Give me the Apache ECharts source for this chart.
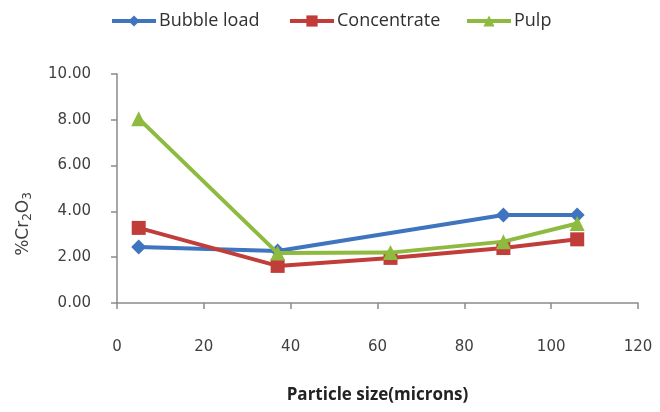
<!DOCTYPE html>
<html>
<head>
<meta charset="utf-8">
<script src="https://cdn.jsdelivr.net/npm/echarts@6/dist/echarts.min.js"></script>
<style>
  html, body { margin: 0; padding: 0; background: #fff; }
  #chart { width: 660px; height: 412px; }
</style>
</head>
<body>
<div id="chart"></div>
<script>
// Particle size (microns) against %Cr2O3 for three flotation streams
const bubbleLoad = [[5, 2.44], [37, 2.27], [89, 3.84], [106, 3.84]];
const concentrate = [[5, 3.28], [37, 1.62], [63, 1.97], [89, 2.40], [106, 2.78]];
const pulp = [[5, 8.05], [37, 2.18], [63, 2.20], [89, 2.68], [106, 3.47]];
const seriesNames = ['Bubble load', 'Concentrate', 'Pulp'];

const colors = ['#3f74bf', '#c03d3a', '#8dba3f'];
const symbols = ['diamond', 'rect', 'triangle'];
const symbolSizes = [15, 14, 15];
const dataSets = [bubbleLoad, concentrate, pulp];
const legendLefts = [110, 288, 465];

const chart = echarts.init(document.getElementById('chart'));

const axisColor = '#8a8a8a';
const textColor = '#404040';

chart.setOption({
  animation: false,
  color: colors,
  // one legend block per series so each entry sits at its own spot
  legend: seriesNames.map((name, i) => ({
    top: 12,
    left: legendLefts[i],
    padding: 0,
    itemWidth: 44,
    itemHeight: 14,
    lineStyle: { width: 4 },
    textStyle: {
      fontFamily: 'Open Sans',
      fontSize: 18,
      color: '#303030',
      padding: [0, 0, 0, -2]
    },
    data: [name]
  })),
  grid: {
    left: 117,
    right: 22,
    top: 74,
    bottom: 109,
    containLabel: false,
    outerBoundsMode: 'none'
  },
  graphic: [{
    type: 'text',
    x: 24,
    y: 224,
    rotation: Math.PI / 2,
    style: {
      text: '{a|%Cr}{s|2}{a|O}{s|3}',
      align: 'center',
      verticalAlign: 'middle',
      rich: {
        a: { fontFamily: 'DejaVu Sans', fontSize: 17, fill: textColor },
        s: { fontFamily: 'DejaVu Sans', fontSize: 12, fill: textColor, padding: [7, 0, 0, 0] }
      }
    }
  }],
  xAxis: {
    type: 'value',
    min: 0,
    max: 120,
    interval: 20,
    name: 'Particle size(microns)',
    nameLocation: 'middle',
    nameGap: 84,
    nameTextStyle: {
      fontFamily: 'Open Sans',
      fontWeight: 'bold',
      fontSize: 17,
      color: '#222'
    },
    axisLine: { lineStyle: { color: axisColor, width: 1.5 } },
    axisTick: { show: true, length: 6, lineStyle: { color: axisColor, width: 1.5 } },
    axisLabel: {
      margin: 37,
      color: textColor,
      fontFamily: 'DejaVu Sans',
      fontSize: 15
    },
    splitLine: { show: false }
  },
  yAxis: {
    type: 'value',
    min: 0,
    max: 10,
    interval: 2,
    axisLine: { show: true, lineStyle: { color: axisColor, width: 1.5 } },
    axisTick: { show: true, length: 6, lineStyle: { color: axisColor, width: 1.5 } },
    axisLabel: {
      margin: 26,
      color: textColor,
      fontFamily: 'DejaVu Sans',
      fontSize: 15,
      formatter: function (v) { return v.toFixed(2); }
    },
    splitLine: { show: false }
  },
  series: seriesNames.map((name, i) => ({
    name: name,
    type: 'line',
    data: dataSets[i],
    symbol: symbols[i],
    symbolSize: symbolSizes[i],
    showAllSymbol: true,
    lineStyle: { width: 4, color: colors[i] },
    itemStyle: { color: colors[i] },
    z: 2 + i
  }))
});
</script>
</body>
</html>
